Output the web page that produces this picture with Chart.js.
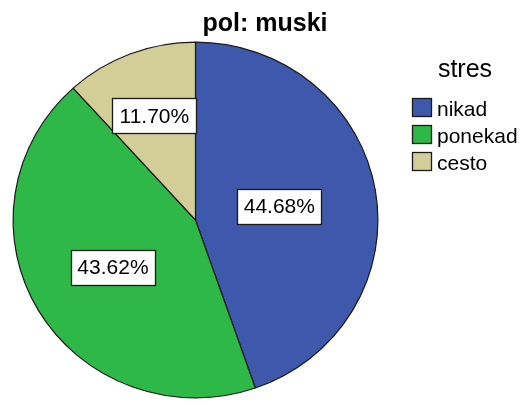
<!DOCTYPE html>
<html>
<head>
<meta charset="utf-8">
<title>pol: muski</title>
<script src="https://cdn.jsdelivr.net/npm/chart.js@4/dist/chart.umd.min.js"></script>
<style>
  body { margin: 0; background: #fff; }
  #wrap { width: 522px; height: 406px; }
</style>
</head>
<body>
<div id="wrap"><canvas id="pieChart" width="522" height="406"></canvas></div>
<script>
// Data
const chartTitle = "pol: muski";
const legendTitle = "stres";
const categories = ["nikad", "ponekad", "cesto"];
const percentages = [44.68, 43.62, 11.70];

// Colors (SPSS style)
const sliceColors = ["#3e58ab", "#2eb848", "#d3ce97"];
// Label distance from center, as a fraction of the radius
const labelRadius = [0.466, 0.526, 0.628];
// SPSS pie is a little flatter than round
const yScale = 0.975;

const FONT = '"Liberation Sans", Arial, sans-serif';

// Squash the pie slightly in y around its center
const flattenPie = {
  id: "flattenPie",
  beforeDatasetsDraw(chart) {
    const arc = chart.getDatasetMeta(0).data[0];
    const ctx = chart.ctx;
    ctx.save();
    ctx.translate(0, arc.y);
    ctx.scale(1, yScale);
    ctx.translate(0, -arc.y);
  },
  afterDatasetsDraw(chart) {
    chart.ctx.restore();
  },
};

// Draw title, percent boxes and legend on top of the pie
const spssDecor = {
  id: "spssDecor",
  afterDraw(chart) {
    const ctx = chart.ctx;
    ctx.save();

    // Title
    ctx.fillStyle = "#000";
    ctx.font = "bold 25px " + FONT;
    ctx.textAlign = "center";
    ctx.textBaseline = "alphabetic";
    ctx.fillText(chartTitle, 265, 31);

    // Percent labels in white boxes
    const meta = chart.getDatasetMeta(0);
    ctx.font = "21px " + FONT;
    ctx.textBaseline = "middle";
    meta.data.forEach((arc, i) => {
      const p = arc.getProps(["x", "y", "startAngle", "endAngle", "outerRadius"], true);
      const mid = (p.startAngle + p.endAngle) / 2;
      const r = p.outerRadius * labelRadius[i];
      const cx = p.x + Math.cos(mid) * r;
      const cy = p.y + Math.sin(mid) * r * yScale;
      const text = percentages[i].toFixed(2) + "%";
      const w = 84, h = 35;
      const bx = Math.round(cx - w / 2) + 0.5;
      const by = Math.round(cy - h / 2) + 0.5;
      ctx.fillStyle = "#fff";
      ctx.fillRect(bx, by, w, h);
      ctx.strokeStyle = "#1a1a1a";
      ctx.lineWidth = 1.3;
      ctx.strokeRect(bx, by, w, h);
      ctx.fillStyle = "#000";
      ctx.fillText(text, cx, cy + 1);
    });

    // Legend
    ctx.font = "25px " + FONT;
    ctx.textAlign = "center";
    ctx.textBaseline = "alphabetic";
    ctx.fillText(legendTitle, 465, 77);

    ctx.font = "21px " + FONT;
    ctx.textAlign = "left";
    ctx.lineWidth = 1.3;
    categories.forEach((name, i) => {
      const y = 98 + i * 27;
      ctx.fillStyle = sliceColors[i];
      ctx.fillRect(412.5, y + 0.5, 19, 18);
      ctx.strokeStyle = "#1a1a1a";
      ctx.strokeRect(412.5, y + 0.5, 19, 18);
      ctx.fillStyle = "#000";
      ctx.fillText(name, 437, y + 18);
    });

    ctx.restore();
  },
};

new Chart(document.getElementById("pieChart"), {
  type: "pie",
  data: {
    labels: categories,
    datasets: [
      {
        data: percentages,
        backgroundColor: sliceColors,
        borderColor: "#1a1a1a",
        borderWidth: 1.2,
      },
    ],
  },
  options: {
    responsive: false,
    animation: false,
    layout: {
      padding: { left: 12, right: 143, top: 37, bottom: 3 },
    },
    plugins: {
      legend: { display: false },
      tooltip: { enabled: false },
      title: { display: false },
    },
  },
  plugins: [flattenPie, spssDecor],
});
</script>
</body>
</html>
